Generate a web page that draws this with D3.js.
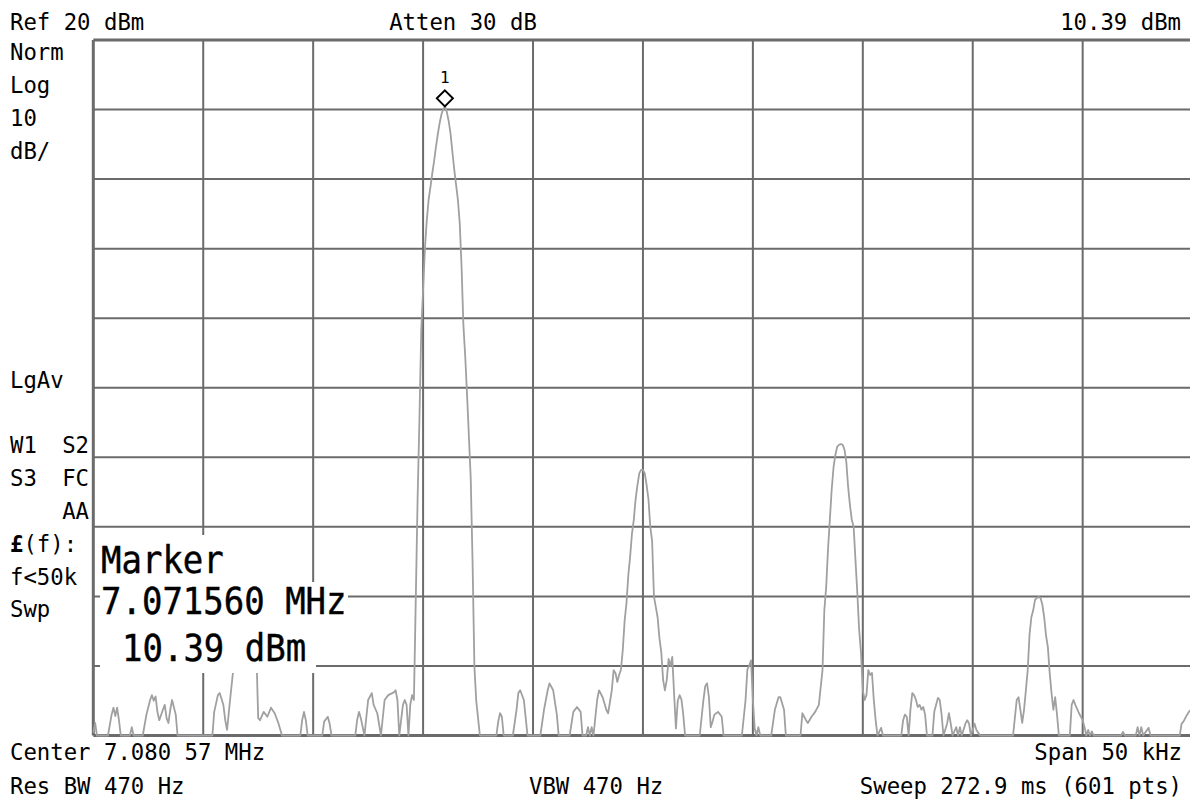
<!DOCTYPE html>
<html>
<head>
<meta charset="utf-8">
<script src="https://d3js.org/d3.v7.min.js"></script>
<style>
body { margin: 0; background: #fff; }
text { font-family: "DejaVu Sans Mono", monospace; fill: #000; }
</style>
</head>
<body>
<script>

// analyzer settings
let centerMHz = 7.08057;
let spanMHz = 0.05;
let refLevel = 20;
let dbPerDiv = 10;
let nDiv = 10;
let nPts = 601;
let markerMHz = 7.071560;
let markerDbm = 10.39;

// trace: sample index (0..600) and level in dBm
let traceIdx = [0,1,2,8,10,11,12,13,14,15,20,21,22,27,29,31,32,33,34,35,36,38,39,40,41,42,43,45,46,
  65,66,68,69,71,72,73,75,77,79,82,86,89,90,91,93,95,97,99,101,103,113,114,115,116,117,
  125,126,128,129,130,143,144,145,146,148,150,152,153,155,157,159,161,164,165,166,167,169,170,171,172,173,174,175,
  176,177,178,179,180,181,182,183,184,185,186,187,188,189,190,191,192,193,194,195,196,197,198,199,200,
  201,202,203,204,205,206,207,208,209,210,211,
  220,221,222,223,224,229,231,232,233,235,237,244,246,248,249,251,253,254,260,262,264,266,267,
  269,270,271,272,273,275,276,278,280,281,283,284,285,286,287,288,289,290,291,292,293,294,295,296,297,298,299,300,
  301,302,303,304,305,306,307,308,309,310,311,312,313,314,315,316,317,318,319,320,321,322,323,
  331,333,334,335,336,337,338,339,340,341,343,344,354,356,357,358,359,360,361,362,363,364,370,372,374,375,377,378,
  386,387,389,390,392,394,396,398,399,400,401,402,403,404,405,406,407,408,409,410,411,412,413,414,415,416,417,418,419,420,
  421,422,423,424,425,426,427,428,430,431,
  441,442,443,444,445,446,447,448,449,450,451,452,453,454,455,458,459,461,462,463,464,466,467,468,469,471,472,473,474,
  476,477,478,479,481,482,484,502,504,505,506,507,508,509,510,511,512,513,514,515,516,517,518,519,520,521,522,523,524,525,526,527,
  533,534,535,536,538,540,541,542,543,544,545,546,561,562,563,569,570,571,572,573,576,577,593,594,595,596,597,598,599,600];

let traceDbm = [-79.6,-78.2,-80,-80,-77,-76,-77.2,-76,-77.8,-80,-80,-78.8,-80,-80,-77,-74.9,-74.2,-75,-74.4,-76.6,-77.8,-76.3,-75.6,-77.5,-78.2,-76.3,-74.9,-77,-80,
  -80,-76.6,-74.2,-73.9,-75.6,-77.8,-79.2,-74,-69,-65,-64,-66,-68,-77.5,-77.8,-76.6,-77.3,-76,-76.8,-78.2,-80,-80,-77.8,-76.6,-77.8,-80,
  -80,-78,-77.3,-78.3,-80,-80,-77.8,-76.6,-77.5,-80,-74.9,-73.9,-75.6,-76.8,-80,-74.9,-74.2,-73.8,-73.5,-74.9,-80,-75.6,-74.9,-75.6,-80,-75.6,-74.2,-74.9,
  -60.5,-46,-34.6,-21.7,-16,-10,-6,-3,-1.2,0.8,2.6,4.6,6.4,8.0,9.3,10.1,10.39,9.6,8.3,6.5,3.9,1.4,-0.8,-3,-6.3,
  -12.6,-21,-25.5,-31,-37,-43,-55,-70,-75,-77.5,-80,
  -80,-78,-76.8,-77.3,-80,-80,-76.3,-73.9,-73.5,-74.9,-80,-80,-76.3,-73.5,-72.5,-73.5,-77,-80,-80,-76.6,-75.9,-76.6,-80,
  -80,-78.8,-80,-78.8,-80,-74.9,-73.5,-74.5,-76.3,-76.8,-73.5,-70.6,-71,-72.3,-71.3,-70.5,-67.7,-63.5,-61,-57,-54.3,-51,-49,-46,-44,-42.3,-41.8,-41.8,
  -42.3,-44,-46,-50,-52,-60,-61.5,-63,-66,-68,-72,-73.5,-72,-69,-70,-68.7,-74,-79,-75,-74.2,-74.8,-77,-80,
  -80,-74.9,-72.9,-72.5,-74.5,-78.8,-78,-77,-76.8,-76.6,-77.3,-80,-80,-74.9,-70.5,-69.9,-69.2,-74.9,-79,-80,-78.8,-80,-80,-76.3,-74.5,-74.5,-76.3,-80,
  -80,-76.8,-77.8,-78.2,-77.3,-76.6,-75.6,-70.6,-62,-58.7,-53.3,-49,-44.7,-41.5,-39.7,-38.5,-38.2,-38.1,-38.2,-38.9,-40.7,-44.3,-46.9,-49,-50,-54.8,-59.5,-64.8,-68.1,-73.5,
  -74.9,-74.2,-70.6,-71.3,-71,-74.9,-77.8,-80,-78.9,-80,
  -80,-77.8,-77,-77.3,-80,-76.3,-73.9,-74.2,-74.9,-75.9,-75.6,-76.3,-75.9,-77,-80,-80,-76.6,-74.6,-74.9,-77,-80,-78.3,-76.8,-78.3,-80,-78.8,-80,-78.8,-80,
  -78.3,-77.8,-78.3,-80,-78.3,-79.2,-80,-80,-74.9,-74.5,-76.3,-78.2,-76.3,-73.5,-70.6,-65.5,-63,-62,-60.5,-60.2,-60.1,-60.2,-61.2,-63,-65.6,-67.3,-71,-73.9,-76.3,-74.5,-77,-80,
  -80,-75.6,-74.9,-75.6,-76.8,-77.8,-78.8,-80,-79.2,-80,-79.4,-80,-80,-79.5,-80,-80,-78.8,-80,-78.8,-80,-78.9,-80,-80,-78.3,-78,-77.5,-77,-76.6,-76.3,-76];

// screen annotations
let headerText = ["Ref 20 dBm", "Atten 30 dB", "10.39 dBm"];
let statusText = ["Norm", "Log", "10", "dB/", "LgAv"];
let flagText = [["W1", "S2"], ["S3", "FC"], ["", "AA"]];
let sweepText = ["f<50k", "Swp"];
let footerText = ["Center 7.080 57 MHz", "Span 50 kHz", "Res BW 470 Hz", "VBW 470 Hz", "Sweep 272.9 ms (601 pts)"];
let markerText = ["Marker", "7.071560 MHz", "10.39 dBm"];

let width = 1190, height = 806;
let gLeft = 93.3, gRight = 1192.6, gTop = 40, gBottom = 735.5;

let svg = d3.select("body").append("svg").attr("width", width).attr("height", height);

let fStart = centerMHz - spanMHz / 2, fStop = centerMHz + spanMHz / 2;
let x = d3.scaleLinear().domain([fStart, fStop]).range([gLeft, gRight]);
let y = d3.scaleLinear().domain([refLevel - nDiv * dbPerDiv, refLevel]).range([gBottom, gTop]);

// graticule
let grid = svg.append("g").attr("stroke", "#6b6b6b").attr("stroke-width", 2);
grid.selectAll(".v").data(d3.range(nDiv + 1)).enter().append("line")
  .attr("x1", d => x(fStart + d * spanMHz / nDiv)).attr("x2", d => x(fStart + d * spanMHz / nDiv))
  .attr("y1", gTop).attr("y2", gBottom)
  .attr("stroke-width", d => d == 0 ? 3 : 2);
grid.selectAll(".h").data(d3.range(nDiv + 1)).enter().append("line")
  .attr("y1", d => y(refLevel - d * dbPerDiv)).attr("y2", d => y(refLevel - d * dbPerDiv))
  .attr("x1", gLeft).attr("x2", gRight)
  .attr("stroke-width", d => (d == 0 || d == nDiv) ? 3 : 2);

// trace
let pts = traceIdx.map((i, k) => [fStart + i * spanMHz / (nPts - 1), traceDbm[k]]);
svg.append("path")
  .datum(pts)
  .attr("fill", "none")
  .attr("stroke", "#a0a0a0")
  .attr("stroke-width", 1.8)
  .attr("stroke-linejoin", "round")
  .attr("d", d3.line().x(d => x(d[0])).y(d => y(d[1])));

// header / footer text
let fs = "22.3px";
svg.append("text").attr("x", 10).attr("y", 30).style("font-size", fs).text(headerText[0]);
svg.append("text").attr("x", 463).attr("y", 30).attr("text-anchor", "middle").style("font-size", fs).text(headerText[1]);
svg.append("text").attr("x", 1181).attr("y", 30).attr("text-anchor", "end").style("font-size", fs).text(headerText[2]);

let statusY = [60, 93, 126, 159, 388];
statusText.forEach((t, k) => {
  svg.append("text").attr("x", 10).attr("y", statusY[k]).style("font-size", fs).text(t);
});
let flagY = [453, 486, 519];
flagText.forEach((p, k) => {
  svg.append("text").attr("x", 10).attr("y", flagY[k]).style("font-size", fs).text(p[0]);
  svg.append("text").attr("x", 89).attr("y", flagY[k]).attr("text-anchor", "end").style("font-size", fs).text(p[1]);
});
let lf = svg.append("text").attr("x", 10).attr("y", 552).style("font-size", fs);
lf.append("tspan").style("font-weight", "bold").text("£");
lf.append("tspan").text("(f):");
sweepText.forEach((t, k) => {
  svg.append("text").attr("x", 10).attr("y", [585, 617][k]).style("font-size", fs).text(t);
});

svg.append("text").attr("x", 10).attr("y", 760).style("font-size", fs).text(footerText[0]);
svg.append("text").attr("x", 1182).attr("y", 760).attr("text-anchor", "end").style("font-size", fs).text(footerText[1]);
svg.append("text").attr("x", 10).attr("y", 794).style("font-size", fs).text(footerText[2]);
svg.append("text").attr("x", 529).attr("y", 794).style("font-size", fs).text(footerText[3]);
svg.append("text").attr("x", 1182).attr("y", 794).attr("text-anchor", "end").style("font-size", fs).text(footerText[4]);

// marker readout block (blanks the graticule behind it)
let boxes = [[100, 535, 220, 582], [100, 582, 348, 628], [100, 628, 316, 673]];
boxes.forEach(b => {
  svg.append("rect").attr("x", b[0]).attr("y", b[1]).attr("width", b[2] - b[0]).attr("height", b[3] - b[1]).attr("fill", "#fff");
});
let mY = [573, 614, 661];
let mX = [101, 101, 122];
markerText.forEach((t, k) => {
  svg.append("text")
    .attr("transform", "translate(" + mX[k] + "," + mY[k] + ") scale(1,1.12)")
    .style("font-size", "34px")
    .attr("stroke", "#000").attr("stroke-width", 0.4)
    .text(t);
});

// marker diamond
let mx = x(markerMHz), my = y(markerDbm) - 8.5;
svg.append("path")
  .attr("d", `M${mx},${my - 8}L${mx + 8},${my}L${mx},${my + 8}L${mx - 8},${my}Z`)
  .attr("fill", "#fff").attr("stroke", "#000").attr("stroke-width", 2);
svg.append("text").attr("x", mx).attr("y", my - 15).attr("text-anchor", "middle").style("font-size", "16px").text("1");

</script>
</body>
</html>
